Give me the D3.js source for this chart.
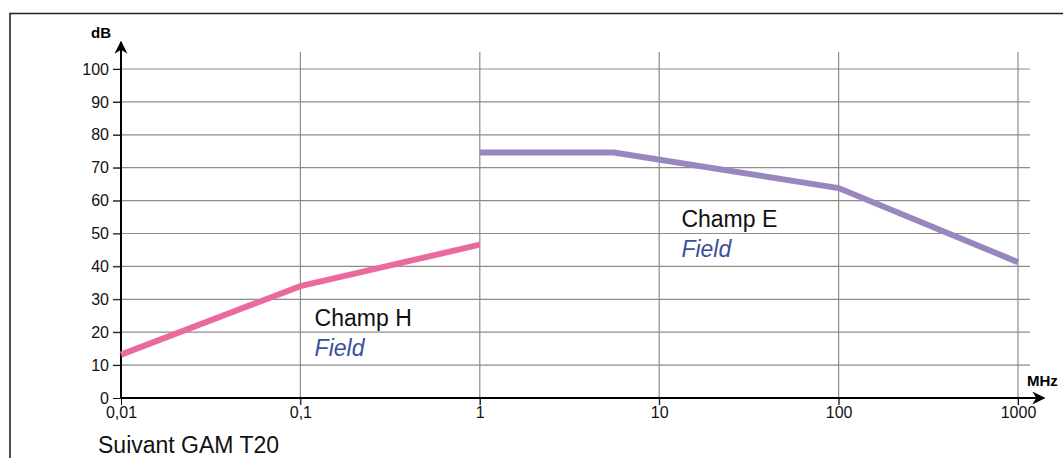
<!DOCTYPE html>
<html>
<head>
<meta charset="utf-8">
<script src="https://cdn.jsdelivr.net/npm/d3@7"></script>
<style>
	body { margin: 0; background: #fff; }
	svg { display: block; font-family: "Liberation Sans", Arial, sans-serif; }
	.tick text { font-family: "Liberation Sans", Arial, sans-serif; font-size: 16px; fill: #111; }
</style>
</head>
<body>
<svg id="chart" width="1063" height="458"></svg>
<script>
// data
var xTicks = [0.01, 0.1, 1, 10, 100, 1000];
var xTickLabels = ['0,01', '0,1', '1', '10', '100', '1000'];
var yTicks = [0, 10, 20, 30, 40, 50, 60, 70, 80, 90, 100];
var champH = [[0.01, 13.2], [0.1, 34], [1, 46.6]];
var champE = [[1, 74.6], [5.6, 74.6], [100, 63.8], [1000, 41.3]];
var labels = [
	{x: 0.12, y: 22, text: 'Champ H', sub: 'Field'},
	{x: 13.3, y: 52, text: 'Champ E', sub: 'Field'}
];

var svg = d3.select('#chart');

var x = d3.scaleLog()
	.domain([0.01, 1000])
	.range([121, 1018]);
var y = d3.scaleLinear()
	.domain([0, 100])
	.range([398, 69]);

// frame
svg.append('path')
	.attr('d', 'M10,470 L10,13.5 L1075,13.5')
	.attr('fill', 'none')
	.attr('stroke', '#222')
	.attr('stroke-width', 1.6);

// grid
svg.append('g').selectAll('line').data(yTicks.slice(1)).enter().append('line')
	.attr('x1', 113).attr('x2', 1030)
	.attr('y1', function(d) {return y(d)})
	.attr('y2', function(d) {return y(d)})
	.attr('stroke', '#8c8c8c').attr('stroke-width', 1.2);
svg.append('g').selectAll('line').data(xTicks.slice(1)).enter().append('line')
	.attr('x1', function(d) {return x(d)})
	.attr('x2', function(d) {return x(d)})
	.attr('y1', 52).attr('y2', 405)
	.attr('stroke', '#8c8c8c').attr('stroke-width', 1.2);

// axes
var yAxis = d3.axisLeft(y).tickValues(yTicks).tickSize(8).tickPadding(4);
var gy = svg.append('g').attr('transform', 'translate(121,0)').call(yAxis);
gy.select('.domain').remove();
gy.selectAll('line').attr('stroke', '#111');

var xAxis = d3.axisBottom(x).tickValues(xTicks)
	.tickFormat(function(d, i) {return xTickLabels[i]})
	.tickSize(7).tickPadding(2);
var gx = svg.append('g').attr('transform', 'translate(0,398)').call(xAxis);
gx.select('.domain').remove();
gx.selectAll('line').attr('stroke', '#111');

svg.append('defs').append('marker')
	.attr('id', 'arrow')
	.attr('viewBox', '0 0 10 10')
	.attr('refX', 9).attr('refY', 5)
	.attr('markerWidth', 13).attr('markerHeight', 13)
	.attr('markerUnits', 'userSpaceOnUse')
	.attr('orient', 'auto')
	.append('path').attr('d', 'M0,0 L10,5 L0,10 L3,5 Z').attr('fill', '#000');

svg.append('line')
	.attr('x1', 121).attr('y1', 398).attr('x2', 121).attr('y2', 42)
	.attr('stroke', '#000').attr('stroke-width', 2)
	.attr('marker-end', 'url(#arrow)');
svg.append('line')
	.attr('x1', 121).attr('y1', 398).attr('x2', 1044).attr('y2', 398)
	.attr('stroke', '#000').attr('stroke-width', 2)
	.attr('marker-end', 'url(#arrow)');

svg.append('text').attr('x', 101).attr('y', 38)
	.attr('text-anchor', 'middle')
	.style('font-size', '15px').style('font-weight', 'bold')
	.text('dB');
svg.append('text').attr('x', 1027).attr('y', 386)
	.style('font-size', '15px').style('font-weight', 'bold')
	.text('MHz');

// series
var line = d3.line()
	.x(function(d) {return x(d[0])})
	.y(function(d) {return y(d[1])});

svg.append('path').datum(champH)
	.attr('d', line)
	.attr('fill', 'none')
	.attr('stroke', '#eb6a9e')
	.attr('stroke-width', 6);
svg.append('path').datum(champE)
	.attr('d', line)
	.attr('fill', 'none')
	.attr('stroke', '#9787be')
	.attr('stroke-width', 6);

// labels
var lab = svg.append('g').selectAll('g').data(labels).enter().append('g')
	.attr('transform', function(d) {return 'translate(' + x(d.x) + ',' + y(d.y) + ')'});
lab.append('text')
	.attr('y', 0)
	.style('font-size', '23px')
	.attr('fill', '#111')
	.text(function(d) {return d.text});
lab.append('text')
	.attr('y', 30)
	.style('font-size', '23px').style('font-style', 'italic')
	.attr('fill', '#3b4f9e')
	.text(function(d) {return d.sub});

svg.append('text').attr('x', 98).attr('y', 453)
	.style('font-size', '23px').attr('fill', '#111')
	.text('Suivant GAM T20');
</script>
</body>
</html>
